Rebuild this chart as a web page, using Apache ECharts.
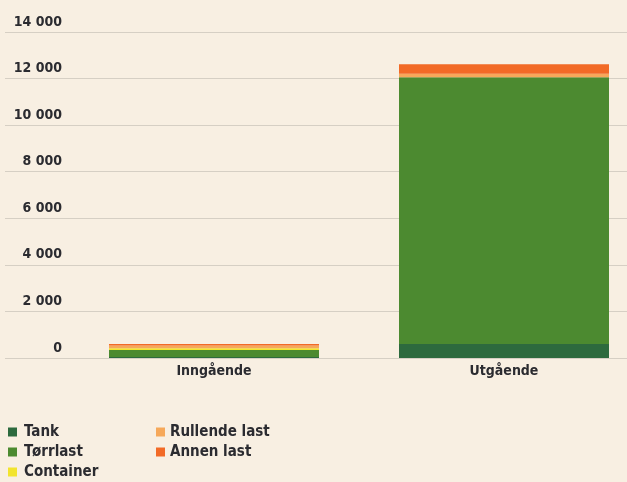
<!DOCTYPE html>
<html><head><meta charset="utf-8">
<script src="https://cdn.jsdelivr.net/npm/echarts@6/dist/echarts.min.js"></script>
<style>html,body{margin:0;padding:0;background:#f8efe2;}#c{width:627px;height:482px;}</style>
</head><body><div id="c"></div>
<script>
const categories = ['Inngående', 'Utgående'];
const tank = [40, 600];
const torrlast = [300, 11460];
const container = [80, 0];
const rullende = [120, 150];
const annen = [60, 410];
const yTicks = [0, 2000, 4000, 6000, 8000, 10000, 12000, 14000];

const font = '"DejaVu Sans Condensed", "Liberation Sans Narrow", "Roboto", sans-serif';
const names = ['Tank', 'Tørrlast', 'Container', 'Rullende last', 'Annen last'];
const colors = ['#2d6a3e', '#4c8a30', '#f2e42e', '#f6a85a', '#f26a26'];
const values = [tank, torrlast, container, rullende, annen];
const txt = '#2b2b30';

const chart = echarts.init(document.getElementById('c'));
const fmt = v => { const s = String(v); return s.length > 3 ? s.slice(0, -3) + ' ' + s.slice(-3) : s; };
chart.setOption({
  backgroundColor: '#f8efe2',
  animation: false,
  grid: [
    {left: 214, right: 123, top: 32, bottom: 124},
    {left: 5, right: 0, top: 32, bottom: 124}
  ],
  xAxis: [
    {type: 'category', gridIndex: 0, data: categories, boundaryGap: false,
     axisLine: {show: false}, axisTick: {show: false}, splitLine: {show: false},
     axisLabel: {color: txt, fontFamily: font, fontSize: 14, fontWeight: 'bold', margin: 6, lineHeight: 14}},
    {type: 'value', gridIndex: 1, show: false, min: 0, max: 1}
  ],
  yAxis: [
    {type: 'value', gridIndex: 0, min: 0, max: yTicks[yTicks.length - 1], interval: 2000, show: false},
    {type: 'value', gridIndex: 1, min: 0, max: yTicks[yTicks.length - 1], interval: 2000,
     axisLine: {show: false}, axisTick: {show: false},
     splitLine: {show: true, lineStyle: {color: '#d6cfc4', width: 1}},
     axisLabel: {inside: true, align: 'right', verticalAlign: 'bottom', margin: 57, lineHeight: 14,
       padding: [0, 0, 3, 0], color: txt, fontFamily: font, fontSize: 14, fontWeight: 'bold',
       formatter: v => fmt(v)}}
  ],
  legend: [
    {data: names.slice(0, 3), orient: 'vertical', left: 8, top: 422, padding: 0, itemWidth: 9, itemHeight: 9, itemGap: 0,
     icon: 'rect', textStyle: {color: txt, fontFamily: font, fontSize: 15, fontWeight: 'bold', lineHeight: 20, padding: [0, 0, 0, 2]}},
    {data: names.slice(3), orient: 'vertical', left: 156, top: 422, padding: 0, itemWidth: 9, itemHeight: 9, itemGap: 0,
     icon: 'rect', textStyle: {color: txt, fontFamily: font, fontSize: 15, fontWeight: 'bold', lineHeight: 20, padding: [0, 0, 0, 0]}}
  ],
  series: names.map((n, i) => ({
    name: n, type: 'bar', stack: 'all', xAxisIndex: 0, yAxisIndex: 0, clip: false,
    barWidth: 210, data: values[i], itemStyle: {color: colors[i]}
  }))
});
</script></body></html>
